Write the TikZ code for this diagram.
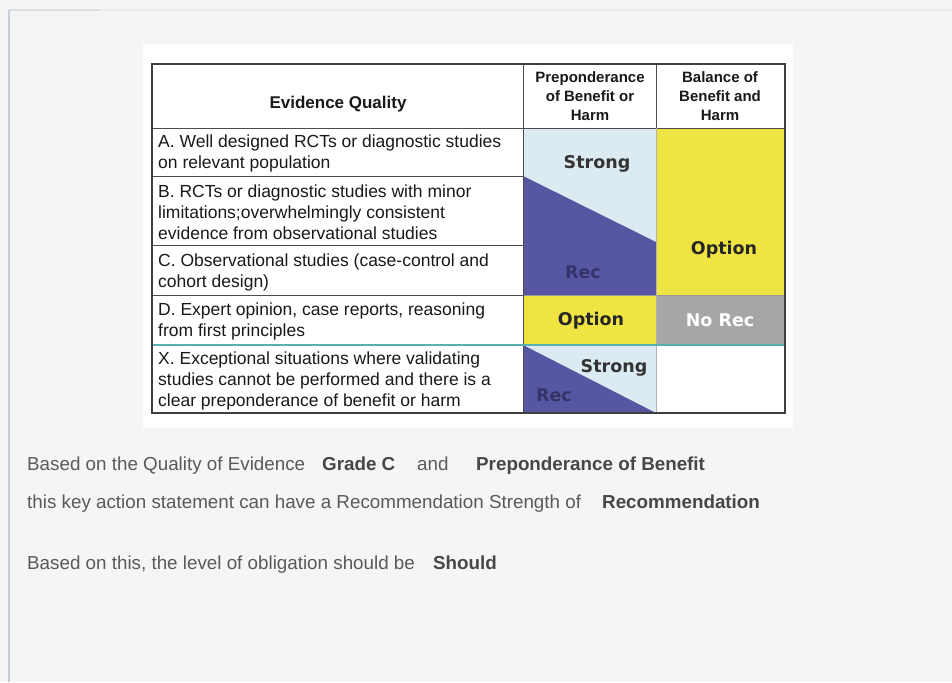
\documentclass[tikz,border=0pt]{standalone}
\usepackage{fontspec}
\setmainfont{Liberation Sans}
\newfontfamily\verd{DejaVu Sans}
\definecolor{bgc}{HTML}{F4F5F7}
\definecolor{lightb}{HTML}{DCEAF1}
\definecolor{purp}{HTML}{5756A2}
\definecolor{yell}{HTML}{F0E443}
\definecolor{grayc}{HTML}{A6A6A6}
\definecolor{teal2}{HTML}{5AAFB4}
\definecolor{recc}{HTML}{34346A}
\definecolor{txtg}{HTML}{5A5A5A}
\definecolor{txtb}{HTML}{474747}
\tikzset{
  body/.style={anchor=west,inner sep=0pt,align=left,font=\fontsize{17.5}{21}\selectfont,text=black!90},
  hdr/.style={inner sep=0pt,align=center,font=\fontsize{15}{19}\selectfont\bfseries,text=black!90},
  cellt/.style={inner sep=0pt,font=\verd\fontsize{17.5}{20}\selectfont\bfseries},
  note/.style={anchor=base west,inner sep=0pt,font=\fontsize{18.8}{20}\selectfont,text=txtg},
  noteb/.style={anchor=base west,inner sep=0pt,font=\fontsize{18.8}{20}\selectfont\bfseries,text=txtb},
  grid/.style={draw=black!70,line width=1pt},
}
\begin{document}
\begin{tikzpicture}[x=1pt,y=-1pt]
\fill[bgc] (0,0) rectangle (952,682);
\useasboundingbox (0,0) rectangle (952,682);
\draw[color=black!8,line width=2pt] (9,10) -- (952,10);
\draw[color=black!13,line width=2pt] (9,10) -- (100,10);
\draw[color={rgb,255:red,200;green,205;blue,222},line width=2pt] (9,10) -- (9,682);
\fill[white] (143,44) rectangle (793,428);
% column 2 colors
\fill[lightb] (523,128) rectangle (656,295);
\fill[purp] (523,176) -- (656,242) -- (656,295) -- (523,295) -- cycle;
\fill[yell] (656,128) rectangle (785,295);
\fill[yell] (523,295) rectangle (656,345);
\fill[grayc] (656,295) rectangle (785,345);
\fill[lightb] (523,345) rectangle (656,413);
\fill[purp] (523,345) -- (656,413) -- (523,413) -- cycle;
% grid
\draw[grid] (152,128) -- (785,128);
\draw[grid] (152,176) -- (523,176);
\draw[grid] (152,245) -- (523,245);
\draw[grid] (152,295) -- (523,295);
\draw[draw=black!40,line width=0.6pt] (523,295) -- (785,295);
\draw[grid] (523,64) -- (523,413);
\draw[grid] (656,64) -- (656,128);
\draw[draw=black!30,line width=0.6pt] (656,128) -- (656,413);
\draw[teal2,line width=1.5pt] (152,345) -- (785,345);
\draw[draw=black!75,line width=1.6pt] (152,64) rectangle (785,413);
% headers
\node[hdr,font=\fontsize{17}{20}\selectfont\bfseries] (hq) at (338,104) {Evidence Quality};
\node[hdr] (hp) at (590,96) {Preponderance\\of Benefit or\\Harm};
\node[hdr] (hb) at (720,96) {Balance of\\Benefit and\\Harm};
% rows
\node[body] (ra) at (158,153) {A. Well designed RCTs or diagnostic studies\\on relevant population};
\node[body] (rb) at (158,212) {B. RCTs or diagnostic studies with minor\\limitations;overwhelmingly consistent\\evidence from observational studies};
\node[body] (rc) at (158,272) {C. Observational studies (case-control and\\cohort design)};
\node[body] (rd) at (158,321) {D. Expert opinion, case reports, reasoning\\from first principles};
\node[body] (rx) at (158,380.5) {X. Exceptional situations where validating\\studies cannot be performed and there is a\\clear preponderance of benefit or harm};
% cell labels
\node[cellt,text=black!80] (s1) at (597,164) {Strong};
\node[cellt,text=recc] (r1) at (583,272) {Rec};
\node[cellt,text=black!85] (o1) at (724,250) {Option};
\node[cellt,text=black!85] (o2) at (591,321) {Option};
\node[cellt,text=white] (nr) at (720,320) {No Rec};
\node[cellt,text=black!80] (s2) at (614,368) {Strong};
\node[cellt,text=recc] (r2) at (554,395) {Rec};
% notes
\node[note] (n1) at (27,470) {Based on the Quality of Evidence};
\node[noteb] (n2) at (322,470) {Grade C};
\node[note] (n3) at (417,470) {and};
\node[noteb] (n4) at (476,470) {Preponderance of Benefit};
\node[note] (n5) at (27,508) {this key action statement can have a Recommendation Strength of};
\node[noteb] (n6) at (602,508) {Recommendation};
\node[note] (n7) at (27,569) {Based on this, the level of obligation should be};
\node[noteb] (n8) at (433,569) {Should};
\end{tikzpicture}
\end{document}
